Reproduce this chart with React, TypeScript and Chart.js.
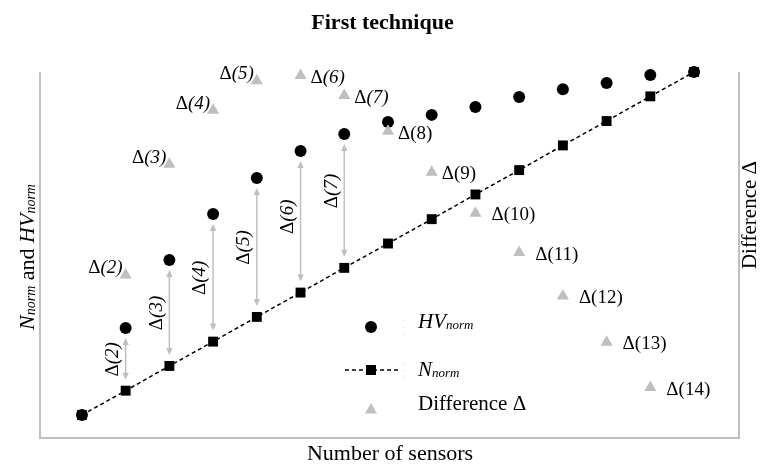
import React, { useEffect, useRef } from 'react';
import { Chart, registerables } from 'chart.js';

Chart.register(...registerables);

// ---- Data ----
const sensors = [1, 2, 3, 4, 5, 6, 7, 8, 9, 10, 11, 12, 13, 14, 15];
const hvNorm = [0, 0.254, 0.452, 0.586, 0.691, 0.77, 0.819, 0.854, 0.875, 0.898, 0.927, 0.95, 0.968, 0.991, 1.0];
const nNorm = [0, 0.071, 0.143, 0.214, 0.286, 0.357, 0.429, 0.5, 0.571, 0.643, 0.714, 0.786, 0.857, 0.929, 1.0];
const diffSensors = [2, 3, 4, 5, 6, 7, 8, 9, 10, 11, 12, 13, 14];
const diffValues = [0.187, 0.314, 0.376, 0.41, 0.416, 0.393, 0.352, 0.305, 0.258, 0.213, 0.163, 0.11, 0.058];
const arrowSensors = [2, 3, 4, 5, 6, 7];

const titleText = 'First technique';
const xTitleText = 'Number of sensors';
const y2TitleText = 'Difference Δ';
const legendDiffText = 'Difference Δ';

const FAMILY = "'Liberation Serif', 'Times New Roman', serif";
const GRAY = '#bfbfbf';

type Seg = { t: string; italic?: boolean; sub?: boolean; bold?: boolean };

function segFont(s: Seg, size: number) {
  const sz = s.sub ? Math.round(size * 0.62) : size;
  return `${s.italic ? 'italic ' : ''}${s.bold ? 'bold ' : ''}${sz}px ${FAMILY}`;
}

function drawRich(ctx: CanvasRenderingContext2D, segs: Seg[], x: number, y: number, size: number, align: 'left' | 'center' | 'right') {
  ctx.textBaseline = 'alphabetic';
  ctx.textAlign = 'left';
  const widths = segs.map((s) => {
    ctx.font = segFont(s, size);
    return ctx.measureText(s.t).width;
  });
  const total = widths.reduce((a, b) => a + b, 0);
  let cx = align === 'left' ? x : align === 'center' ? x - total / 2 : x - total;
  segs.forEach((s, i) => {
    ctx.font = segFont(s, size);
    ctx.fillText(s.t, cx, y + (s.sub ? size * 0.06 : 0));
    cx += widths[i];
  });
}

function deltaLabel(n: number, italic: boolean): Seg[] {
  return [{ t: 'Δ' }, { t: `(${n})`, italic }];
}

function drawTriangle(ctx: CanvasRenderingContext2D, x: number, y: number, r: number) {
  ctx.beginPath();
  let rad = 0;
  ctx.moveTo(x + Math.sin(rad) * r, y - Math.cos(rad) * r);
  rad += (2 * Math.PI) / 3;
  ctx.lineTo(x + Math.sin(rad) * r, y - Math.cos(rad) * r);
  rad += (2 * Math.PI) / 3;
  ctx.lineTo(x + Math.sin(rad) * r, y - Math.cos(rad) * r);
  ctx.closePath();
  ctx.fill();
}

const overlayPlugin = {
  id: 'overlay',
  beforeDatasetsDraw(chart: any) {
    const ctx: CanvasRenderingContext2D = chart.ctx;
    const { left, right, top, bottom } = chart.chartArea;
    const xs = chart.scales.x;
    const ys = chart.scales.y;
    ctx.save();
    // plot box: left, right, bottom
    ctx.strokeStyle = GRAY;
    ctx.lineWidth = 2;
    ctx.beginPath();
    ctx.moveTo(left, top);
    ctx.lineTo(left, bottom);
    ctx.lineTo(right, bottom);
    ctx.lineTo(right, top);
    ctx.stroke();

    // arrows between HV and N
    ctx.strokeStyle = GRAY;
    ctx.fillStyle = GRAY;
    ctx.lineWidth = 1.5;
    arrowSensors.forEach((s) => {
      const i = sensors.indexOf(s);
      const x = xs.getPixelForValue(s);
      const yTop = ys.getPixelForValue(hvNorm[i]) + 10;
      const yBot = ys.getPixelForValue(nNorm[i]) - 11;
      const hl = 7;
      const hw = 3.2;
      ctx.beginPath();
      ctx.moveTo(x, yTop + hl - 1);
      ctx.lineTo(x, yBot - hl + 1);
      ctx.stroke();
      ctx.beginPath();
      ctx.moveTo(x, yTop);
      ctx.lineTo(x - hw, yTop + hl);
      ctx.lineTo(x + hw, yTop + hl);
      ctx.closePath();
      ctx.fill();
      ctx.beginPath();
      ctx.moveTo(x, yBot);
      ctx.lineTo(x - hw, yBot - hl);
      ctx.lineTo(x + hw, yBot - hl);
      ctx.closePath();
      ctx.fill();
    });
    ctx.restore();
  },
  afterDatasetsDraw(chart: any) {
    const ctx: CanvasRenderingContext2D = chart.ctx;
    const xs = chart.scales.x;
    const ys = chart.scales.y;
    const y2s = chart.scales.y2;
    const { left, right } = chart.chartArea;
    ctx.save();
    ctx.fillStyle = '#000';

    // arrow labels (rotated)
    const LS = 19;
    arrowSensors.forEach((s) => {
      const i = sensors.indexOf(s);
      const x = xs.getPixelForValue(s);
      const yTop = ys.getPixelForValue(hvNorm[i]);
      const yBot = ys.getPixelForValue(nNorm[i]);
      const mid = (yTop + yBot) / 2 - Math.max(0, s - 5) * 5;
      ctx.save();
      ctx.translate(x - 14 + LS * 0.33, mid);
      ctx.rotate(-Math.PI / 2);
      drawRich(ctx, deltaLabel(s, true), 0, 0, LS, 'center');
      ctx.restore();
    });

    // triangle labels
    diffSensors.forEach((s, i) => {
      const x = xs.getPixelForValue(s);
      const y = y2s.getPixelForValue(diffValues[i]);
      const italic = s <= 7;
      if (s <= 5) {
        drawRich(ctx, deltaLabel(s, italic), x - 3, y - 8 + LS * 0.33, LS, 'right');
      } else {
        const off = s >= 10 ? 16 : 10;
        drawRich(ctx, deltaLabel(s, italic), x + off, y + 1 + LS * 0.33, LS, 'left');
      }
    });

    // legend
    const lx = 371;
    const tx = 418;
    const LGS = 21;
    ctx.fillStyle = '#000';
    ctx.beginPath();
    ctx.arc(lx, 327, 6, 0, Math.PI * 2);
    ctx.fill();
    drawRich(ctx, [{ t: 'HV', italic: true }, { t: 'norm', italic: true, sub: true }], tx, 328, LGS, 'left');

    ctx.save();
    ctx.strokeStyle = '#000';
    ctx.lineWidth = 1.5;
    ctx.setLineDash([4, 3]);
    ctx.beginPath();
    ctx.moveTo(345, 370);
    ctx.lineTo(398, 370);
    ctx.stroke();
    ctx.restore();
    ctx.fillRect(lx - 5, 370 - 5, 10, 10);
    drawRich(ctx, [{ t: 'N', italic: true }, { t: 'norm', italic: true, sub: true }], tx, 376, LGS, 'left');

    ctx.fillStyle = GRAY;
    drawTriangle(ctx, lx, 410, 7);
    ctx.fillStyle = '#000';
    drawRich(ctx, [{ t: legendDiffText }], tx, 410, LGS, 'left');

    // faint separators
    ctx.fillStyle = '#d9d9d9';
    [320, 327, 334, 363, 370, 377].forEach((yy) => ctx.fillRect(403, yy, 1, 1));

    // title
    ctx.fillStyle = '#000';
    drawRich(ctx, [{ t: titleText, bold: true }], (left + right) / 2 - 7, 29, 22, 'center');

    // x title
    drawRich(ctx, [{ t: xTitleText }], 390, 460, 22, 'center');

    // left y title
    ctx.save();
    ctx.translate(34, 257);
    ctx.rotate(-Math.PI / 2);
    drawRich(
      ctx,
      [
        { t: 'N', italic: true },
        { t: 'norm', italic: true, sub: true },
        { t: ' and ' },
        { t: 'HV', italic: true },
        { t: 'norm', italic: true, sub: true },
      ],
      0,
      0,
      22,
      'center'
    );
    ctx.restore();

    // right y title
    ctx.save();
    ctx.translate(756, 215);
    ctx.rotate(-Math.PI / 2);
    drawRich(ctx, [{ t: y2TitleText }], 0, 0, 21, 'center');
    ctx.restore();

    ctx.restore();
  },
};

export default function App() {
  const ref = useRef<HTMLCanvasElement | null>(null);
  useEffect(() => {
    if (!ref.current) return;
    const chart = new Chart(ref.current, {
      type: 'scatter',
      data: {
        datasets: [
          {
            label: 'Difference Δ',
            data: diffSensors.map((s, i) => ({ x: s, y: diffValues[i] })),
            yAxisID: 'y2',
            pointStyle: 'triangle',
            pointRadius: 7,
            backgroundColor: GRAY,
            borderWidth: 0,
            showLine: false,
            clip: false as any,
          },
          {
            label: 'HVnorm',
            data: sensors.map((s, i) => ({ x: s, y: hvNorm[i] })),
            yAxisID: 'y',
            pointStyle: 'circle',
            pointRadius: 6,
            backgroundColor: '#000',
            borderWidth: 0,
            showLine: false,
            clip: false as any,
          },
          {
            label: 'Nnorm',
            data: sensors.map((s, i) => ({ x: s, y: nNorm[i] })),
            yAxisID: 'y',
            pointStyle: 'rect',
            pointRadius: 7,
            backgroundColor: '#000',
            borderColor: '#000',
            pointBorderWidth: 0,
            borderWidth: 1.5,
            borderDash: [4, 3],
            showLine: true,
            clip: false as any,
          } as any,
        ],
      },
      options: {
        animation: false,
        responsive: false,
        events: [],
        layout: { padding: { left: 40, right: 24, top: 72, bottom: 26 } },
        plugins: { legend: { display: false }, tooltip: { enabled: false }, title: { display: false } },
        scales: {
          x: { type: 'linear', display: false, min: 0.041, max: 16.028 },
          y: { type: 'linear', display: false, min: -0.067, max: 1.0 },
          y2: { type: 'linear', display: false, position: 'right', min: 0, max: 0.42 },
        },
      },
      plugins: [overlayPlugin],
    });
    return () => chart.destroy();
  }, []);
  return (
    <canvas
      ref={ref}
      width={763}
      height={464}
      style={{ position: 'absolute', left: 0, top: 0, width: 763, height: 464 }}
    />
  );
}
